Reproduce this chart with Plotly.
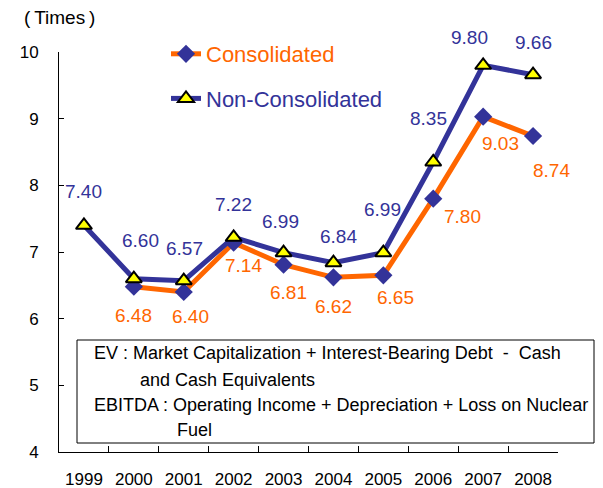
import plotly.graph_objects as go

# data
years = ["1999", "2000", "2001", "2002", "2003", "2004", "2005", "2006", "2007", "2008"]
consolidated = [None, 6.48, 6.40, 7.14, 6.81, 6.62, 6.65, 7.80, 9.03, 8.74]
non_consolidated = [7.40, 6.60, 6.57, 7.22, 6.99, 6.84, 6.99, 8.35, 9.80, 9.66]

# label offsets in px (dx, dy-down) relative to each point
cons_offsets = [None, (0, 29), (7, 24), (10, 23), (5, 28), (0, 29), (12, 22), (29, 18), (17, 27), (18, 34)]
noncons_offsets = [(0, -34), (7, -38), (1, -32), (0, -33), (-3, -31), (5, -26), (-1, -43), (-5, -44), (-14, -28), (0, -32)]

NB = "\u00a0"
note_lines = [
    (f"EV : Market Capitalization + Interest-Bearing Debt {NB}-{NB} Cash", 92, 353),
    ("and Cash Equivalents", 138, 380),
    ("EBITDA : Operating Income + Depreciation + Loss on Nuclear", 92, 405),
    ("Fuel", 175, 430),
]

ORANGE = "#FF6600"
BLUE = "#333399"
FONT = "Liberation Sans, Arial, sans-serif"

# the page body adds an 8px margin, so work in window px and shift
OFF = 8
W, H = 603 - OFF, 488 - OFF
# plot area in window px
L, R, T, B = 59, 558, 52, 452


def px_x(x):
    return (x - L) / (R - L)


def px_y(y):
    return (B - y) / (B - T)


fig = go.Figure()

fig.add_trace(go.Scatter(
    x=years, y=consolidated,
    name=f"<span style='color:{ORANGE}'>Consolidated</span>",
    mode="lines+markers",
    line=dict(color=ORANGE, width=5),
    marker=dict(symbol="diamond", size=14, color=BLUE),
    legendgroup="a",
))
fig.add_trace(go.Scatter(
    x=years, y=non_consolidated,
    name=f"<span style='color:{BLUE}'>Non-Consolidated</span>",
    mode="lines+markers",
    line=dict(color=BLUE, width=5),
    marker=dict(symbol="triangle-up", size=14, color="#FFFF00",
                line=dict(color="black", width=2)),
    legendgroup="b",
))

annotations = []
for i, (v, off) in enumerate(zip(consolidated, cons_offsets)):
    if v is None:
        continue
    annotations.append(dict(x=i, y=v, text=f"{v:.2f}", showarrow=False,
                            xshift=off[0], yshift=-off[1],
                            font=dict(size=19, color=ORANGE, family=FONT)))
for i, (v, off) in enumerate(zip(non_consolidated, noncons_offsets)):
    annotations.append(dict(x=i, y=v, text=f"{v:.2f}", showarrow=False,
                            xshift=off[0], yshift=-off[1],
                            font=dict(size=19, color=BLUE, family=FONT)))

for text, x, y in note_lines:
    annotations.append(dict(xref="paper", yref="paper", x=px_x(x), y=px_y(y),
                            xanchor="left", yanchor="middle", text=text,
                            showarrow=False,
                            font=dict(size=18, color="black", family=FONT)))

annotations.append(dict(xref="paper", yref="paper", x=px_x(22), y=px_y(17),
                        xanchor="left", yanchor="middle",
                        text="(\u2009Times\u2009)", showarrow=False,
                        font=dict(size=19, color="black", family=FONT)))

fig.update_layout(
    width=W, height=H,
    margin=dict(l=L - OFF, r=603 - R, t=T - OFF, b=488 - B),
    plot_bgcolor="white", paper_bgcolor="white",
    font=dict(family=FONT, size=17, color="black"),
    showlegend=True,
    legend=dict(x=px_x(166), y=px_y(33), xanchor="left", yanchor="top",
                bgcolor="rgba(0,0,0,0)", tracegroupgap=13,
                font=dict(size=22, family=FONT)),
    annotations=annotations,
    shapes=[dict(type="rect", xref="paper", yref="paper",
                 x0=px_x(77), x1=px_x(594), y0=px_y(443), y1=px_y(340),
                 line=dict(color="black", width=1), fillcolor="white",
                 layer="below")],
)
fig.update_xaxes(type="category", categoryorder="array", categoryarray=years,
                 range=[-0.5, 9.5], showline=True, linecolor="black", linewidth=1,
                 ticks="inside", tickson="boundaries", ticklen=6, tickcolor="black",
                 showgrid=False, ticklabelstandoff=12, automargin=False,
                 tickfont=dict(size=17, color="black"))
fig.update_yaxes(range=[4, 10], dtick=1, showline=True, linecolor="black", linewidth=1,
                 ticks="inside", ticklen=5, tickcolor="black", showgrid=False,
                 zeroline=False, ticklabelstandoff=16, automargin=False,
                 tickfont=dict(size=17, color="black"))

fig.write_html("out.html")
